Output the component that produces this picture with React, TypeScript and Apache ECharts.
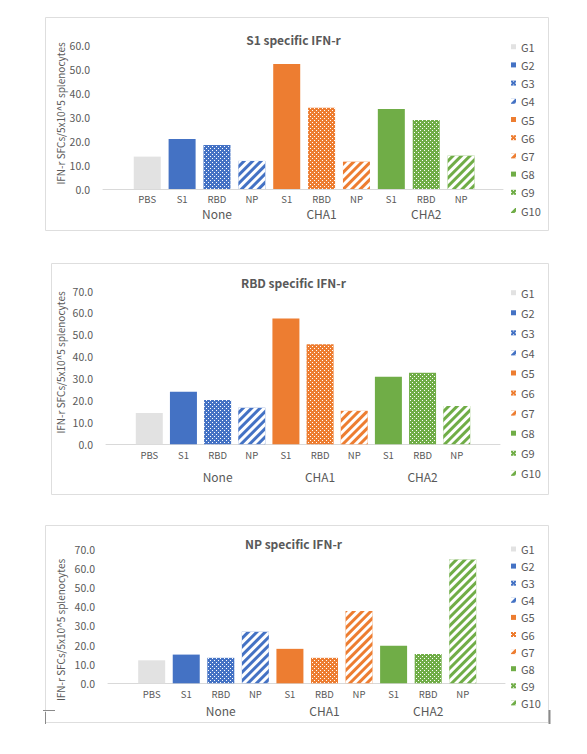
import React, { useEffect, useRef } from 'react';
import * as echarts from 'echarts';

// ---------- data ----------
const categories = ['PBS', 'S1', 'RBD', 'NP', 'S1', 'RBD', 'NP', 'S1', 'RBD', 'NP'];
const groupLabels = ['', '', 'None', '', '', 'CHA1', '', '', 'CHA2', ''];
const seriesNames = ['G1', 'G2', 'G3', 'G4', 'G5', 'G6', 'G7', 'G8', 'G9', 'G10'];
const s1Values = [13.5, 20.8, 18.3, 11.7, 52.1, 33.9, 11.4, 33.3, 28.8, 13.9];
const rbdValues = [14.3, 24.0, 20.2, 16.7, 57.5, 45.7, 15.3, 30.9, 32.7, 17.5];
const npValues = [12.0, 15.0, 13.3, 26.9, 18.0, 13.3, 37.8, 19.6, 15.3, 64.7];
const titles = ['S1 specific IFN-r', 'RBD specific IFN-r', 'NP specific IFN-r'];
const yMaxes = [60, 70, 70];
const yAxisName = 'IFN-r SFCs/5x10^5 splenocytes';
const panelValues = [s1Values, rbdValues, npValues];

// ---------- layout / style ----------
const FONT = '"Noto Sans CJK KR", "Noto Sans", sans-serif';
const TEXT = '#595959';
const LINE = '#d9d9d9';

const layouts = [
  { box: [45, 17, 503, 213], titleCx: 296.5, titleCy: 39, barLeft: 129.8, barW: 348.7, baseLeft: 103, baseW: 400, top: 45, height: 144, catMargin: 4.5, groupMargin: 17, nameCy: 113.5, legendTop: 40.7, legendGap: 6.2 },
  { box: [51, 263, 497, 231], titleCx: 299, titleCy: 282.3, barLeft: 132.2, barW: 341.6, baseLeft: 106, baseW: 394, top: 291, height: 153.3, catMargin: 5.5, groupMargin: 25.4, nameCy: 362.5, legendTop: 286.7, legendGap: 8.07 },
  { box: [45, 525, 503, 197], titleCx: 296, titleCy: 543.3, barLeft: 134.4, barW: 345.6, baseLeft: 108, baseW: 397, top: 549.3, height: 134, catMargin: 5, groupMargin: 19.7, nameCy: 630, legendTop: 543, legendGap: 5.1 },
];

const dotDecal = {
  symbol: 'rect', symbolSize: 1,
  dashArrayX: [[1, 3], [0, 2, 1, 1]], dashArrayY: [1, 1],
  color: '#ffffff', rotation: 0,
};
const stripeDecal = {
  symbol: 'rect', symbolSize: 1,
  dashArrayX: [1, 0], dashArrayY: [3, 3],
  color: '#ffffff', rotation: -Math.PI / 4,
};

const seriesStyles: any[] = [
  { color: '#e2e2e2' },
  { color: '#4472c4' },
  { color: '#4472c4', decal: dotDecal },
  { color: '#4472c4', decal: stripeDecal },
  { color: '#ed7d31' },
  { color: '#ed7d31', decal: dotDecal },
  { color: '#ed7d31', decal: stripeDecal },
  { color: '#70ad47' },
  { color: '#70ad47', decal: dotDecal },
  { color: '#70ad47', decal: stripeDecal },
];

function buildOption() {
  const title: any[] = [];
  const grid: any[] = [];
  const xAxis: any[] = [];
  const yAxis: any[] = [];
  const legend: any[] = [];
  const series: any[] = [];
  const graphic: any[] = [];

  layouts.forEach((L, k) => {
    const yMax = yMaxes[k];
    const shift = 2 * (L.titleCx - 587 / 2);
    title.push({
      text: titles[k],
      left: 'center',
      top: L.titleCy - 7,
      padding: shift >= 0 ? [0, 0, 0, shift] : [0, -shift, 0, 0],
      textStyle: { fontFamily: FONT, fontSize: 12, fontWeight: 'bold', color: TEXT, lineHeight: 14 },
    });
    grid.push({ left: L.barLeft, width: L.barW, top: L.top, height: L.height, containLabel: false });
    grid.push({ left: L.baseLeft, width: L.baseW, top: L.top, height: L.height, containLabel: false });
    const gBar = 2 * k;
    const gBase = 2 * k + 1;

    xAxis.push({
      type: 'category', gridIndex: gBar, data: categories, position: 'bottom',
      axisLine: { show: false }, axisTick: { show: false },
      axisLabel: { interval: 0, fontFamily: FONT, fontSize: 9.5, lineHeight: 11, color: TEXT, margin: L.catMargin },
    });
    xAxis.push({
      type: 'category', gridIndex: gBar, data: groupLabels, position: 'bottom',
      axisLine: { show: false }, axisTick: { show: false },
      axisLabel: { interval: 0, fontFamily: FONT, fontSize: 12, lineHeight: 14, color: TEXT, margin: L.groupMargin },
    });
    xAxis.push({
      type: 'value', gridIndex: gBase, min: 0, max: 1, position: 'bottom',
      axisLine: { show: true, lineStyle: { color: LINE, width: 1 } },
      axisTick: { show: false }, axisLabel: { show: false }, splitLine: { show: false },
    });
    yAxis.push({ type: 'value', gridIndex: gBar, min: 0, max: yMax, interval: 10, show: false });
    yAxis.push({
      type: 'value', gridIndex: gBase, min: 0, max: yMax, interval: 10,
      axisLine: { show: false }, axisTick: { show: false }, splitLine: { show: false },
      axisLabel: { fontFamily: FONT, fontSize: 10.5, color: TEXT, margin: 13, formatter: (v: number) => v.toFixed(1) },
    });

    const vals = panelValues[k];
    seriesNames.forEach((name, i) => {
      series.push({
        type: 'bar', name,
        xAxisIndex: 3 * k, yAxisIndex: 2 * k,
        data: vals.map((v, j) => (j === i ? v : '-')),
        barWidth: 27, barGap: '-100%',
        itemStyle: seriesStyles[i],
        silent: true,
      });
    });

    legend.push({
      orient: 'vertical', left: 511, top: L.legendTop, padding: 0,
      itemWidth: 5, itemHeight: 5, itemGap: L.legendGap, icon: 'rect',
      selectedMode: false, data: seriesNames,
      textStyle: { fontFamily: FONT, fontSize: 11, color: TEXT, lineHeight: 12 },
    });

    const [bx, by, bw, bh] = L.box;
    graphic.push({
      type: 'rect', shape: { x: bx + 0.5, y: by + 0.5, width: bw, height: bh },
      style: { fill: 'none', stroke: '#dedede', lineWidth: 1 }, silent: true, z: -1,
    });
    graphic.push({
      type: 'text', x: 60, y: L.nameCy, rotation: Math.PI / 2,
      style: { text: yAxisName, font: `10px ${FONT}`, fill: TEXT, align: 'center', verticalAlign: 'middle' },
      silent: true,
    });
  });

  graphic.push({ type: 'line', shape: { x1: 549.5, y1: 710, x2: 549.5, y2: 724 }, style: { stroke: '#8a8a8a', lineWidth: 2 }, silent: true });
  graphic.push({ type: 'line', shape: { x1: 45.5, y1: 712, x2: 45.5, y2: 724 }, style: { stroke: '#8a8a8a', lineWidth: 1 }, silent: true });
  graphic.push({ type: 'line', shape: { x1: 43, y1: 710.5, x2: 55, y2: 710.5 }, style: { stroke: '#8a8a8a', lineWidth: 1 }, silent: true });

  return {
    animation: false,
    backgroundColor: '#ffffff',
    textStyle: { fontFamily: FONT },
    title, grid, xAxis, yAxis, legend, series, graphic,
  };
}

export default function App() {
  const ref = useRef<HTMLDivElement>(null);
  useEffect(() => {
    if (!ref.current) return;
    const chart = echarts.init(ref.current, null, { renderer: 'svg' });
    chart.setOption(buildOption() as any);
    return () => chart.dispose();
  }, []);
  return (
    <div style={{ position: 'fixed', left: 0, top: 0, width: 587, height: 754, background: '#fff' }}>
      <div ref={ref} style={{ width: 587, height: 754 }} />
    </div>
  );
}
